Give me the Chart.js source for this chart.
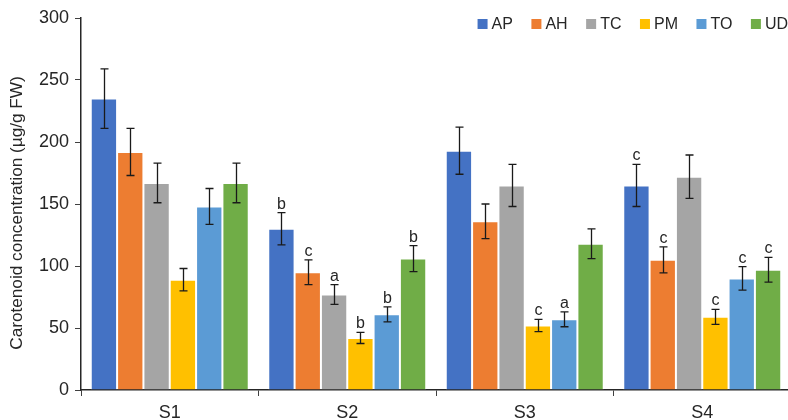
<!DOCTYPE html>
<html>
<head>
<meta charset="utf-8">
<script src="https://cdn.jsdelivr.net/npm/chart.js"></script>
<style>
  html, body { margin: 0; padding: 0; background: #fff; overflow: hidden; }
  #wrap { width: 788px; height: 420px; overflow: hidden; position: relative; }
  #wrap canvas { position: absolute; left: 0; top: 0; }
</style>
</head>
<body>
<div id="wrap"><canvas id="chart"></canvas></div>
<script>
// categories and series (µg/g FW)
const categories = ['S1', 'S2', 'S3', 'S4'];
const seriesNames = ['AP', 'AH', 'TC', 'PM', 'TO', 'UD'];
const colors = ['#4472C4', '#ED7D31', '#A5A5A5', '#FFC000', '#5B9BD5', '#70AD47'];

const AP = [235, 130, 193, 165];
const AH = [192, 95, 136, 105];
const TC = [167, 77, 165, 172];
const PM = [89, 42, 52, 59];
const TO = [148, 61, 57, 90];
const UD = [167, 106, 118, 97];

// error bar half-widths
const AP_err = [24, 13, 19, 17];
const AH_err = [19, 10, 14, 10.5];
const TC_err = [16, 8, 17, 17.5];
const PM_err = [9, 4.5, 5, 6];
const TO_err = [14.5, 6, 6, 9.5];
const UD_err = [16, 10.5, 12, 10];

// significance letters
const AP_sig = ['', 'b', '', 'c'];
const AH_sig = ['', 'c', '', 'c'];
const TC_sig = ['', 'a', '', ''];
const PM_sig = ['', 'b', 'c', 'c'];
const TO_sig = ['', 'b', 'a', 'c'];
const UD_sig = ['', 'b', '', 'c'];

const yTicks = [0, 50, 100, 150, 200, 250, 300];
const yTitle = 'Carotenoid concentration (µg/g FW)';

const values = [AP, AH, TC, PM, TO, UD];
const errors = [AP_err, AH_err, TC_err, PM_err, TO_err, UD_err];
const letters = [AP_sig, AH_sig, TC_sig, PM_sig, TO_sig, UD_sig];

const FONT = '"Liberation Sans", Arial, sans-serif';
const TEXT = '#262626';

const canvas = document.getElementById('chart');
canvas.width = 791;
canvas.height = 432;
canvas.style.width = '791px';
canvas.style.height = '432px';

// error bars + letters
const errorBars = {
  id: 'errorBars',
  afterDatasetsDraw(chart) {
    const ctx = chart.ctx;
    const y = chart.scales.y;
    ctx.save();
    chart.data.datasets.forEach((ds, di) => {
      const meta = chart.getDatasetMeta(di);
      meta.data.forEach((bar, i) => {
        const v = ds.data[i];
        const e = errors[di][i];
        const top = y.getPixelForValue(v + e);
        const bot = y.getPixelForValue(v - e);
        const x = Math.round(bar.x) + 0.5;
        ctx.strokeStyle = '#1a1a1a';
        ctx.lineWidth = 1.3;
        ctx.beginPath();
        ctx.moveTo(x, top); ctx.lineTo(x, bot);
        ctx.moveTo(x - 4, top); ctx.lineTo(x + 4, top);
        ctx.moveTo(x - 4, bot); ctx.lineTo(x + 4, bot);
        ctx.stroke();
        const t = letters[di][i];
        if (t) {
          ctx.fillStyle = TEXT;
          ctx.font = '16px ' + FONT;
          ctx.textAlign = 'center';
          ctx.textBaseline = 'alphabetic';
          ctx.fillText(t, x, top - 4);
        }
      });
    });
    ctx.restore();
  }
};

// legend in the top right corner + y axis title
const extras = {
  id: 'extras',
  afterDraw(chart) {
    const ctx = chart.ctx;
    ctx.save();
    ctx.font = '16px ' + FONT;
    ctx.textBaseline = 'middle';
    ctx.textAlign = 'left';
    const box = 10, gapText = 4, gapItem = 18.5;
    const widths = seriesNames.map(n => ctx.measureText(n).width);
    let total = 0;
    widths.forEach((w, i) => { total += box + gapText + w + (i < widths.length - 1 ? gapItem : 0); });
    let x = 788 - total;
    const yc = 24;
    seriesNames.forEach((n, i) => {
      ctx.fillStyle = colors[i];
      ctx.fillRect(x, yc - box / 2, box, box);
      ctx.fillStyle = TEXT;
      ctx.fillText(n, x + box + gapText, yc + 1);
      x += box + gapText + widths[i] + gapItem;
    });

    // rotated axis title
    ctx.translate(17, 213);
    ctx.rotate(-Math.PI / 2);
    ctx.font = '17.2px ' + FONT;
    ctx.textAlign = 'center';
    ctx.textBaseline = 'middle';
    ctx.fillStyle = TEXT;
    ctx.fillText(yTitle, 0, 0);
    ctx.restore();
  }
};

new Chart(canvas, {
  type: 'bar',
  data: {
    labels: categories,
    datasets: seriesNames.map((name, i) => ({
      label: name,
      data: values[i],
      backgroundColor: colors[i],
      borderColor: 'rgba(255,255,255,0.55)',
      borderWidth: 1,
      categoryPercentage: 0.89,
      barPercentage: 1
    }))
  },
  options: {
    responsive: false,
    animation: false,
    devicePixelRatio: 1,
    layout: { padding: { top: 18, right: 0, left: 0, bottom: 0 } },
    plugins: {
      legend: { display: false },
      tooltip: { enabled: false }
    },
    scales: {
      x: {
        offset: true,
        afterFit: s => { s.height = 42; },
        grid: {
          offset: true,
          drawOnChartArea: false,
          drawTicks: true,
          tickLength: 6,
          color: '#404040'
        },
        border: { display: true, color: '#262626', width: 1.5 },
        ticks: {
          color: TEXT,
          font: { family: FONT, size: 18 },
          padding: 6
        }
      },
      y: {
        min: 0,
        max: 300,
        afterFit: s => { s.width = 81; },
        afterBuildTicks: s => { s.ticks = yTicks.map(v => ({ value: v })); },
        grid: {
          drawOnChartArea: false,
          drawTicks: true,
          tickLength: 6,
          color: '#404040'
        },
        border: { display: true, color: '#262626', width: 1.5 },
        ticks: {
          color: TEXT,
          font: { family: FONT, size: 18 },
          padding: 6
        }
      }
    }
  },
  plugins: [errorBars, extras]
});
</script>
</body>
</html>
